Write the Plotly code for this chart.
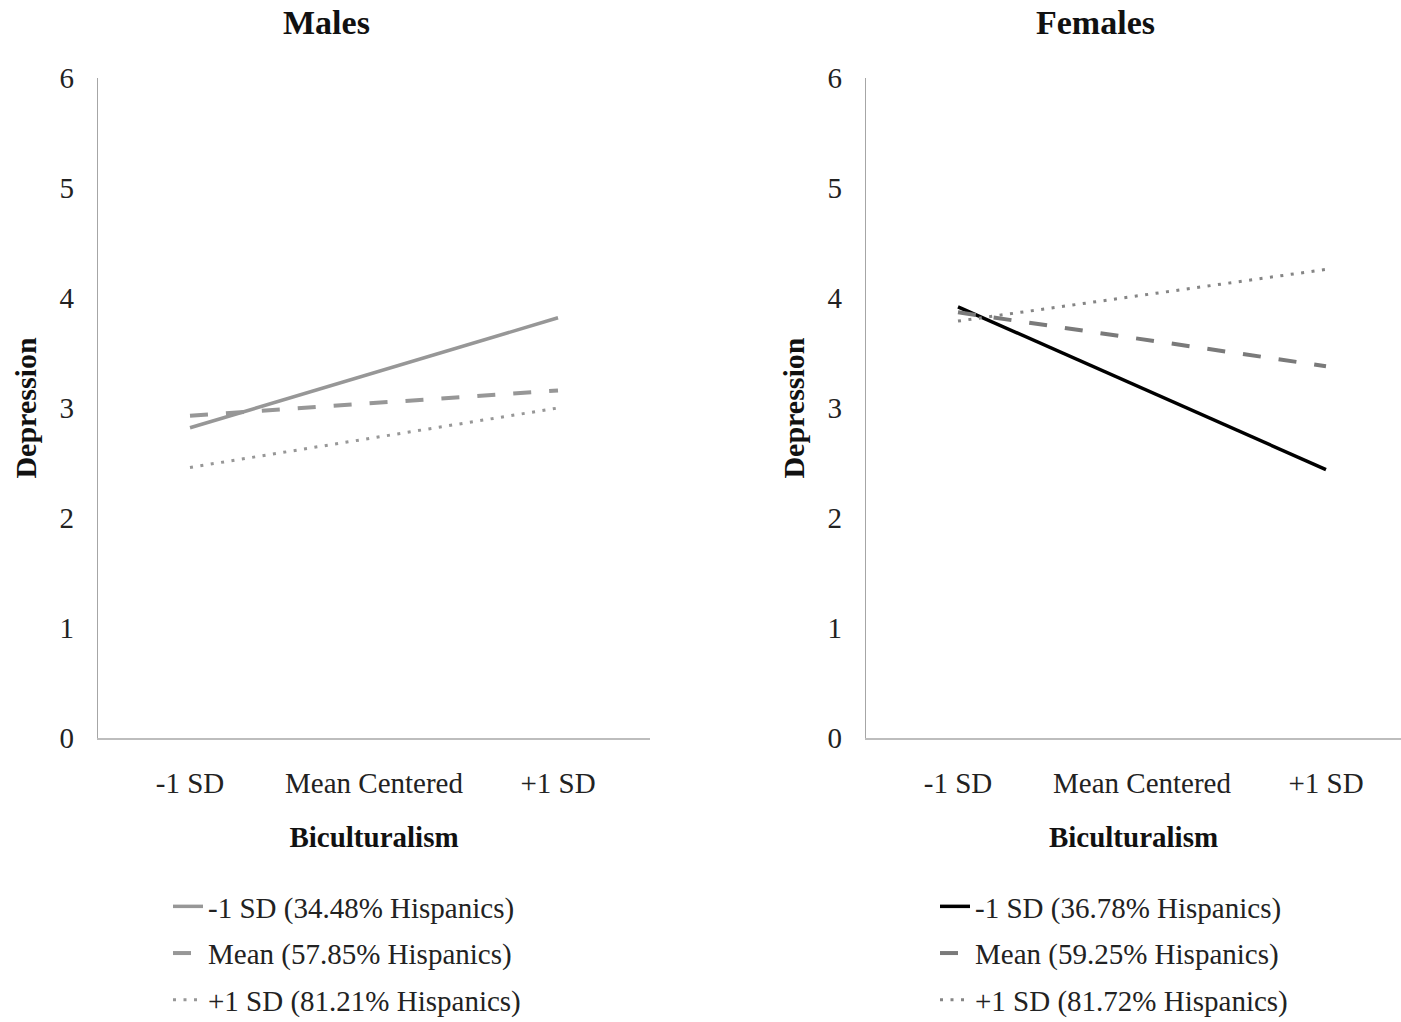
import plotly.graph_objects as go

# ---- data ----
categories = ["-1 SD", "Mean Centered", "+1 SD"]
endpoints = ["-1 SD", "+1 SD"]

male_names = ["-1 SD (34.48% Hispanics)", "Mean (57.85% Hispanics)", "+1 SD (81.21% Hispanics)"]
male_low = [2.82, 3.82]
male_mean = [2.93, 3.16]
male_high = [2.46, 3.00]

female_names = ["-1 SD (36.78% Hispanics)", "Mean (59.25% Hispanics)", "+1 SD (81.72% Hispanics)"]
female_low = [3.92, 2.44]
female_mean = [3.87, 3.38]
female_high = [3.79, 4.26]

y_ticks = [0, 1, 2, 3, 4, 5, 6]

W, H = 1401, 1022
FONT = "Liberation Serif, Times New Roman, serif"

fig = go.Figure()

def px_x(p):
    return p / W

def px_y(p):
    return 1 - p / H

styles_m = [
    dict(color="#979797", width=3.5, dash="solid"),
    dict(color="#979797", width=4, dash="18px,18px"),
    dict(color="#979797", width=3, dash="3px,7.5px"),
]
styles_f = [
    dict(color="#000000", width=3.5, dash="solid"),
    dict(color="#7a7a7a", width=4, dash="18px,18px"),
    dict(color="#858585", width=3, dash="3px,7.5px"),
]

for i, (name, vals) in enumerate(zip(male_names, [male_low, male_mean, male_high])):
    fig.add_trace(go.Scatter(x=endpoints, y=vals, mode="lines", name=name,
                             line=styles_m[i], xaxis="x", yaxis="y",
                             legend="legend", legendgroup=f"m{i}"))
for i, (name, vals) in enumerate(zip(female_names, [female_low, female_mean, female_high])):
    fig.add_trace(go.Scatter(x=endpoints, y=vals, mode="lines", name=name,
                             line=styles_f[i], xaxis="x2", yaxis="y2",
                             legend="legend2", legendgroup=f"f{i}"))

FS = 29
tickfont = dict(family=FONT, size=FS, color="#222222")
titlefont = dict(family=FONT, size=FS, color="#111111", weight="bold")

ydom = [px_y(738), px_y(78)]

xcommon = dict(type="category", categoryorder="array", categoryarray=categories,
               showgrid=False, zeroline=False, showline=True, linecolor="#bdbdbd",
               linewidth=2, ticks="", tickfont=tickfont, ticklabelstandoff=18,
               automargin=False,
               title=dict(text="Biculturalism", font=titlefont, standoff=29))
ycommon = dict(range=[0, 6], tickvals=y_ticks, showgrid=False, zeroline=False,
               showline=True, linecolor="#a6a6a6", linewidth=1.2, ticks="",
               tickfont=tickfont, ticklabelstandoff=17, automargin=False,
               title=dict(text="Depression", font=dict(family=FONT, size=30, color="#111111", weight="bold"),
                          standoff=14))

legfont = dict(family=FONT, size=FS, color="#222222")

fig.update_layout(
    width=W, height=H,
    margin=dict(l=0, r=0, t=0, b=0, autoexpand=False),
    paper_bgcolor="white", plot_bgcolor="white",
    font=dict(family=FONT, size=FS, color="#222222"),
    xaxis=dict(domain=[px_x(98), px_x(650)], range=[-0.5, 2.5], anchor="y", **xcommon),
    yaxis=dict(domain=ydom, anchor="x", **ycommon),
    xaxis2=dict(domain=[px_x(866), 1.0], range=[-0.5, -0.5 + 535 / 184], anchor="y2", **xcommon),
    yaxis2=dict(domain=ydom, anchor="x2", **ycommon),
    legend=dict(x=px_x(168), y=px_y(881), xanchor="left", yanchor="top",
                orientation="v", tracegroupgap=6, itemwidth=30,
                font=legfont, bgcolor="rgba(0,0,0,0)"),
    legend2=dict(x=px_x(935), y=px_y(881), xanchor="left", yanchor="top",
                 orientation="v", tracegroupgap=6, itemwidth=30,
                 font=legfont, bgcolor="rgba(0,0,0,0)"),
    showlegend=True,
    annotations=[
        dict(text="<b>Males</b>", x=px_x(326), y=px_y(22), xref="paper", yref="paper",
             xanchor="center", yanchor="middle",
             showarrow=False, font=dict(family=FONT, size=34, color="#111111")),
        dict(text="<b>Females</b>", x=px_x(1095), y=px_y(22), xref="paper", yref="paper",
             xanchor="center", yanchor="middle",
             showarrow=False, font=dict(family=FONT, size=34, color="#111111")),
    ],
)

fig.write_html("out.html", config={"displayModeBar": False},
               post_script="document.body.style.margin='0';document.body.style.overflow='hidden';")
